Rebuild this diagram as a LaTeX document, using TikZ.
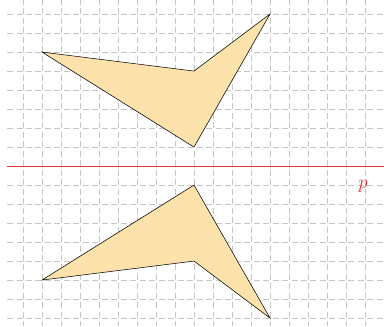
\documentclass[tikz,border=0pt]{standalone}
\usetikzlibrary{positioning}
\definecolor{Sand}{RGB}{253,226,172}
\definecolor{Axis}{RGB}{232,52,60}

\begin{document}
\begin{tikzpicture}[x=.5cm,y=.5cm]
\tikzset{gridline/.style={gray!45,dash pattern=on 4.5pt off 2.6pt}}
\useasboundingbox (-2.21,-8.42) rectangle (18,8.74);
\foreach \x in {-1,...,17}{
  \draw[gridline,dash phase=1pt] (\x,-8.42)--(\x,8.74);
}
\foreach \y in {-8,...,8}{
  \draw[gridline] (-1.84,\y)--(18,\y);
}
\coordinate (a) at (0,6);
\coordinate (b) at (8,5);
\coordinate (c) at (12,8);
\coordinate (d) at (8,1);
\coordinate (a') at (0,-6);
\coordinate (b') at (8,-5);
\coordinate (c') at (12,-8);
\coordinate (d') at (8,-1);
\filldraw[fill=Sand,draw=black] (a)--(b)--(c)--(d)--cycle;
\filldraw[fill=Sand,draw=black] (a')--(b')--(c')--(d')--cycle;
\coordinate (pl) at (-1.84,0);
\coordinate (pr) at (18,0);
\draw[Axis,semithick] (pl)--(pr);
\node[Axis,font=\Large] (p) at (16.9,-1.05) {$p$};
\end{tikzpicture}
\end{document}
